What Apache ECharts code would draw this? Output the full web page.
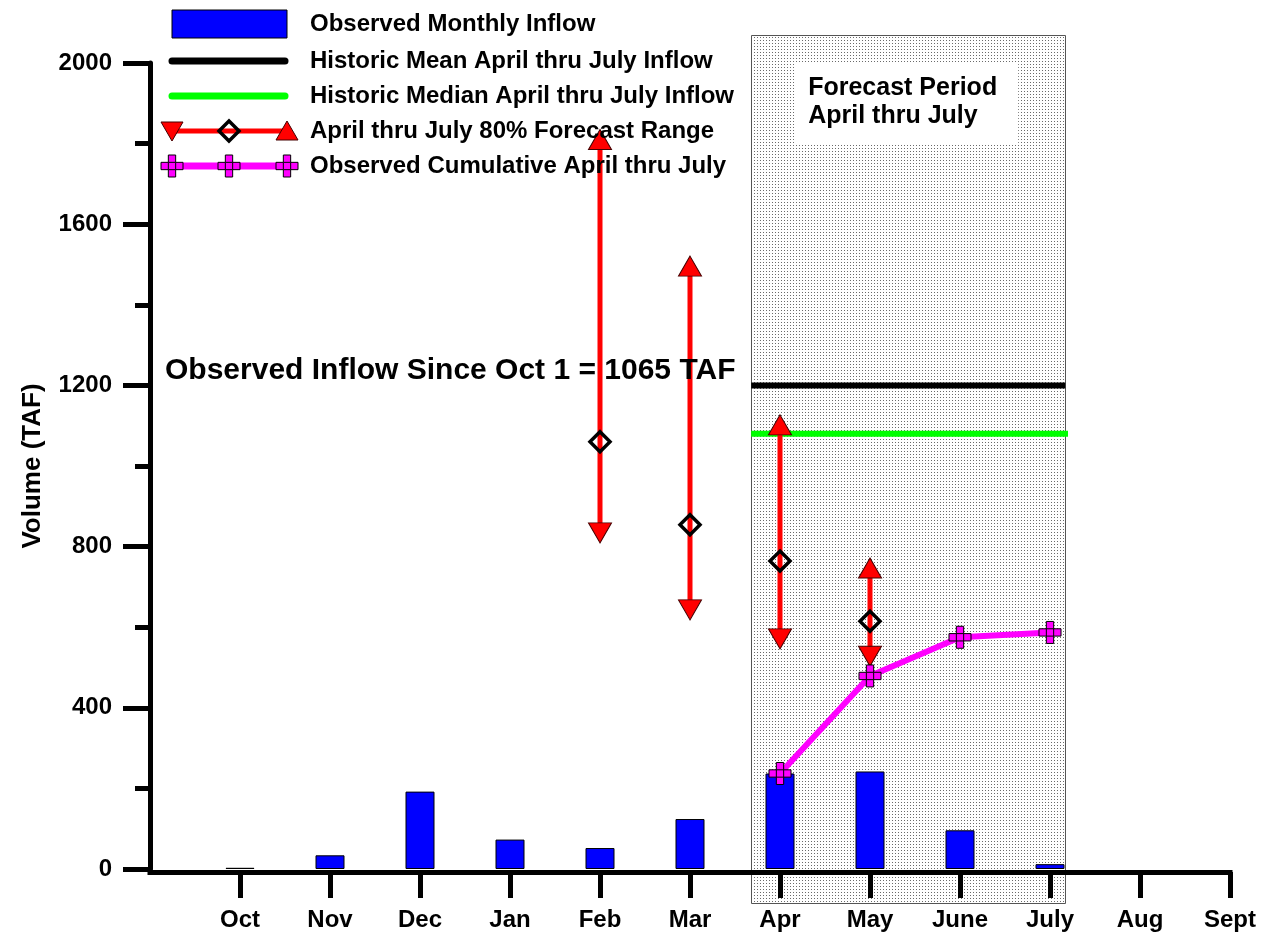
<!DOCTYPE html>
<html>
<head>
<meta charset="utf-8">
<script src="https://cdn.jsdelivr.net/npm/echarts@6/dist/echarts.min.js"></script>
<style>
html,body{margin:0;padding:0;background:#fff;}
#chart{width:1269px;height:937px;}
</style>
</head>
<body>
<div id="chart"></div>
<script>
// ---- data ----
const months = ['Oct','Nov','Dec','Jan','Feb','Mar','Apr','May','June','July','Aug','Sept'];
const monthlyInflow = [3, 34, 192, 73, 52, 124, 237, 242, 96, 12, null, null];
const forecastMonths = ['Feb','Mar','Apr','May'];
const forecastLow = [834, 643, 571, 528];
const forecastMid = [1060, 854, 764, 615];
const forecastHigh = [1810, 1496, 1102, 747];
const cumMonths = ['Apr','May','June','July'];
const cumulative = [237, 479, 575, 587];
const historicMean = 1200;
const historicMedian = 1080;
const observedSinceOct1 = 1065;
const yTicks = [0, 400, 800, 1200, 1600, 2000];

// ---- layout constants ----
const FONT = '"Liberation Sans", Arial, sans-serif';
const boxStart = 6.68, boxEnd = 10.17, boxTop = 2070, boxBottom = -84;
const xOf = m => months.indexOf(m) + 1;
const monthVals = months.map((m, i) => i + 1);

// dotted pattern
const pc = document.createElement('canvas');
pc.width = 3; pc.height = 3;
const pctx = pc.getContext('2d');
pctx.fillStyle = '#ffffff'; pctx.fillRect(0, 0, 3, 3);
pctx.fillStyle = '#6a6a6a'; pctx.fillRect(1, 1, 1, 1);
const pattern = { image: pc, repeat: 'repeat' };

const crossPath = 'path://M1,0H2V1H3V2H2V3H1V2H0V1H1Z M1,1H2V2H1Z';

function crossPts(cx, cy, s) {
  const u = s / 3, x0 = cx - s / 2, y0 = cy - s / 2;
  const p = [[1,0],[2,0],[2,1],[3,1],[3,2],[2,2],[2,3],[1,3],[1,2],[0,2],[0,1],[1,1]];
  return p.map(q => [x0 + q[0] * u, y0 + q[1] * u]);
}
function crossGraphic(cx, cy) {
  const s = 22, u = s / 3;
  return [
    { type: 'polygon', shape: { points: crossPts(cx, cy, s) }, style: { fill: '#ff00ff', stroke: '#000', lineWidth: 1 }, z: 102 },
    { type: 'rect', shape: { x: cx - u / 2, y: cy - u / 2, width: u, height: u }, style: { fill: '#ff00ff', stroke: '#000', lineWidth: 1 }, z: 103 }
  ];
}

const legendRows = [24, 61, 96, 131, 166];
const legendTexts = [
  'Observed Monthly Inflow',
  'Historic Mean April thru July Inflow',
  'Historic Median April thru July Inflow',
  'April thru July 80% Forecast Range',
  'Observed Cumulative April thru July'
];
const LX1 = 172, LX2 = 287, LXM = 229;
const legendGraphics = [];
legendGraphics.push({ type: 'rect', shape: { x: LX1, y: 10, width: LX2 - LX1, height: 28 }, style: { fill: '#0000ff', stroke: '#000', lineWidth: 1 }, z: 100 });
legendGraphics.push({ type: 'line', shape: { x1: LX1, y1: legendRows[1], x2: LX2 - 2, y2: legendRows[1] }, style: { stroke: '#000', lineWidth: 7, lineCap: 'round' }, z: 100 });
legendGraphics.push({ type: 'line', shape: { x1: LX1, y1: legendRows[2], x2: LX2 - 2, y2: legendRows[2] }, style: { stroke: '#00ff00', lineWidth: 7, lineCap: 'round' }, z: 100 });
const r4 = legendRows[3];
legendGraphics.push({ type: 'line', shape: { x1: LX1, y1: r4, x2: LX2, y2: r4 }, style: { stroke: '#ff0000', lineWidth: 5 }, z: 100 });
legendGraphics.push({ type: 'polygon', shape: { points: [[LX1 - 11, r4 - 9], [LX1 + 11, r4 - 9], [LX1, r4 + 10]] }, style: { fill: '#ff0000', stroke: '#400', lineWidth: 1 }, z: 101 });
legendGraphics.push({ type: 'polygon', shape: { points: [[LX2 - 11, r4 + 9], [LX2 + 11, r4 + 9], [LX2, r4 - 10]] }, style: { fill: '#ff0000', stroke: '#400', lineWidth: 1 }, z: 101 });
legendGraphics.push({ type: 'polygon', shape: { points: [[LXM, r4 - 10], [LXM + 10, r4], [LXM, r4 + 10], [LXM - 10, r4]] }, style: { fill: 'rgba(0,0,0,0)', stroke: '#000', lineWidth: 3.5 }, z: 101 });
const r5 = legendRows[4];
legendGraphics.push({ type: 'line', shape: { x1: LX1, y1: r5, x2: LX2, y2: r5 }, style: { stroke: '#ff00ff', lineWidth: 7 }, z: 100 });
[LX1, LXM, LX2].forEach(cx => crossGraphic(cx, r5).forEach(g => legendGraphics.push(g)));
legendTexts.forEach((t, i) => legendGraphics.push({
  type: 'text', x: 310, y: legendRows[i], z: 100,
  style: { text: t, font: 'bold 24px ' + FONT, fill: '#000', verticalAlign: 'middle', align: 'left' }
}));
legendGraphics.push({
  type: 'text', x: 165, y: 371, z: 100,
  style: { text: 'Observed Inflow Since Oct 1 = ' + observedSinceOct1 + ' TAF', font: 'bold 30px ' + FONT, fill: '#000', verticalAlign: 'middle', align: 'left' }
});

const chart = echarts.init(document.getElementById('chart'), null, { renderer: 'canvas' });

const option = {
  animation: false,
  backgroundColor: '#ffffff',
  grid: { left: 150, top: 63, width: 1080, height: 806, containLabel: false },
  xAxis: {
    type: 'value', min: 0, max: 12, interval: 1, offset: 3,
    axisLine: { show: true, onZero: false, lineStyle: { color: '#000', width: 5, cap: 'square' } },
    axisTick: { show: true, customValues: monthVals, length: 26, lineStyle: { color: '#000', width: 5 } },
    axisLabel: { customValues: monthVals, formatter: v => months[Math.round(v) - 1] || '', margin: 36, color: '#000', fontFamily: FONT, fontWeight: 'bold', fontSize: 24 },
    splitLine: { show: false }
  },
  yAxis: {
    type: 'value', min: 0, max: 2000, interval: 400,
    name: 'Volume (TAF)', nameLocation: 'middle', nameGap: 104,
    nameTextStyle: { color: '#000', fontFamily: FONT, fontWeight: 'bold', fontSize: 26 },
    axisLine: { show: true, lineStyle: { color: '#000', width: 5 } },
    axisTick: { show: true, length: 27, lineStyle: { color: '#000', width: 5 } },
    minorTick: { show: true, splitNumber: 2, length: 15, lineStyle: { color: '#000', width: 5 } },
    axisLabel: { margin: 38, formatter: v => String(v), color: '#000', fontFamily: FONT, fontWeight: 'bold', fontSize: 24 },
    splitLine: { show: false }
  },
  graphic: legendGraphics,
  series: [
    {
      type: 'custom', name: 'Forecast Period', z: -1, clip: false, silent: true,
      data: [[boxStart, boxTop]],
      renderItem: (params, api) => {
        const tl = api.coord([boxStart, boxTop]);
        const br = api.coord([boxEnd, boxBottom]);
        const top2000 = api.coord([boxStart, 2000])[1];
        return {
          type: 'group',
          children: [
            { type: 'rect', shape: { x: Math.round(tl[0]) + 0.5, y: Math.round(tl[1]) + 0.5, width: Math.round(br[0] - tl[0]), height: Math.round(br[1] - tl[1]) }, style: { fill: pattern, stroke: '#555', lineWidth: 1 } },
            { type: 'rect', shape: { x: tl[0] + 44, y: top2000, width: 223, height: 80 }, style: { fill: '#ffffff' } },
            { type: 'text', style: { text: 'Forecast Period\nApril thru July', x: tl[0] + 57, y: top2000 + 11, font: 'bold 25px ' + FONT, fill: '#000', lineHeight: 28, verticalAlign: 'top', align: 'left' } }
          ]
        };
      }
    },
    {
      type: 'bar', name: 'Observed Monthly Inflow', z: 2, barWidth: 29, silent: true,
      data: monthlyInflow.map((v, i) => [i + 1, v]),
      itemStyle: { color: '#0000ff', borderColor: '#000', borderWidth: 1 }
    },
    {
      type: 'line', name: 'Historic Mean April thru July Inflow', z: 3, symbol: 'none', silent: true,
      data: [[boxStart, historicMean], [boxEnd, historicMean]],
      lineStyle: { color: '#000', width: 6 }
    },
    {
      type: 'line', name: 'Historic Median April thru July Inflow', z: 3, symbol: 'none', silent: true,
      data: [[boxStart, historicMedian], [boxEnd + 0.03, historicMedian]],
      lineStyle: { color: '#00ff00', width: 6 }
    },
    {
      type: 'custom', name: 'April thru July 80% Forecast Range', z: 4, silent: true,
      data: forecastMonths.map((m, i) => [xOf(m), forecastLow[i], forecastHigh[i]]),
      renderItem: (params, api) => {
        const a = api.coord([api.value(0), api.value(1)]);
        const b = api.coord([api.value(0), api.value(2)]);
        return { type: 'line', shape: { x1: a[0], y1: a[1], x2: b[0], y2: b[1] }, style: { stroke: '#ff0000', lineWidth: 5 } };
      }
    },
    {
      type: 'scatter', name: 'Forecast High', z: 5, silent: true,
      symbol: 'triangle', symbolSize: [23, 20],
      data: forecastMonths.map((m, i) => [xOf(m), forecastHigh[i]]),
      itemStyle: { color: '#ff0000', borderColor: '#400', borderWidth: 1, opacity: 1 }
    },
    {
      type: 'scatter', name: 'Forecast Low', z: 5, silent: true,
      symbol: 'triangle', symbolRotate: 180, symbolSize: [23, 20],
      data: forecastMonths.map((m, i) => [xOf(m), forecastLow[i]]),
      itemStyle: { color: '#ff0000', borderColor: '#400', borderWidth: 1, opacity: 1 }
    },
    {
      type: 'scatter', name: 'Forecast Most Probable', z: 5, silent: true,
      symbol: 'diamond', symbolSize: [20, 20],
      data: forecastMonths.map((m, i) => [xOf(m), forecastMid[i]]),
      itemStyle: { color: 'rgba(0,0,0,0)', borderColor: '#000', borderWidth: 3.5, opacity: 1 }
    },
    {
      type: 'line', name: 'Observed Cumulative April thru July', z: 6, silent: true,
      data: cumMonths.map((m, i) => [xOf(m), cumulative[i]]),
      symbol: crossPath, symbolSize: 22, showAllSymbol: true,
      lineStyle: { color: '#ff00ff', width: 6 },
      itemStyle: { color: '#ff00ff', borderColor: '#000', borderWidth: 1 }
    }
  ]
};
chart.setOption(option);
</script>
</body>
</html>
